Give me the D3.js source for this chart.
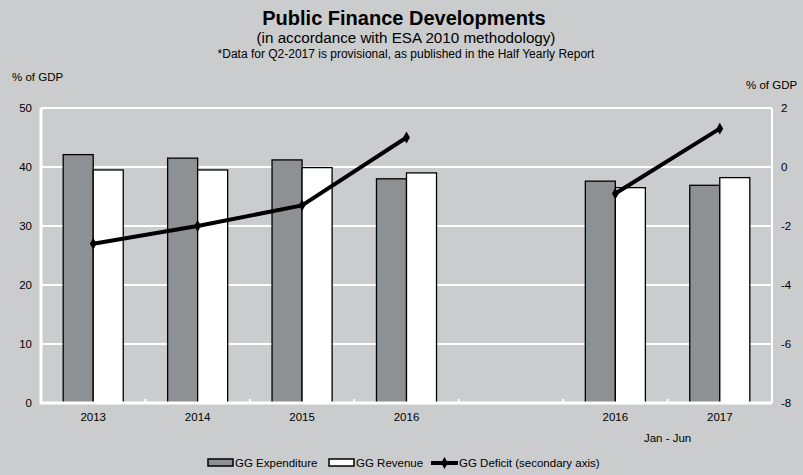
<!DOCTYPE html>
<html>
<head>
<meta charset="utf-8">
<script src="https://cdn.jsdelivr.net/npm/d3@7/dist/d3.min.js"></script>
<style>
  html, body { margin: 0; padding: 0; background: #cbcccd; }
  svg { display: block; font-family: "Liberation Sans", Arial, sans-serif; }
</style>
</head>
<body>
<svg id="chart" width="803" height="475"></svg>
<script>
// Categories (an empty slot separates annual figures from the half-year figures)
const categories = ["2013", "2014", "2015", "2016", "", "2016", "2017"];
const subLabels  = ["", "", "", "", "", "Jan - Jun", ""];

// General government, % of GDP
const expenditure = [42.1, 41.5, 41.2, 38.0, null, 37.6, 36.9];
const revenue     = [39.5, 39.5, 39.9, 39.0, null, 36.5, 38.2];
const deficit     = [-2.6, -2.0, -1.3, 1.0, null, -0.9, 1.3];

const leftTicks  = [0, 10, 20, 30, 40, 50];
const rightTicks = [-8, -6, -4, -2, 0, 2];

const svg = d3.select("#chart");
const W = 803, H = 475;
const plot = { left: 41, right: 772, top: 108, bottom: 403 };

svg.append("rect").attr("width", W).attr("height", H).attr("fill", "#cbcccd");

const x = d3.scaleBand()
  .domain(d3.range(categories.length))
  .range([plot.left, plot.right])
  .paddingInner(0.425)
  .paddingOuter(0.2125);

const xSub = d3.scaleBand().domain(["exp", "rev"]).range([0, x.bandwidth()]);

const yL = d3.scaleLinear().domain([0, 50]).range([plot.bottom, plot.top]);
const yR = d3.scaleLinear().domain([-8, 2]).range([plot.bottom, plot.top]);

// Gridlines
svg.append("g")
  .selectAll("line")
  .data(leftTicks.filter(t => t > 0))
  .join("line")
  .attr("x1", plot.left).attr("x2", plot.right)
  .attr("y1", d => yL(d)).attr("y2", d => yL(d))
  .attr("stroke", "#ffffff").attr("stroke-width", 2);

// Right axis line
svg.append("line")
  .attr("x1", plot.right).attr("x2", plot.right)
  .attr("y1", plot.top).attr("y2", plot.bottom)
  .attr("stroke", "#ffffff").attr("stroke-width", 2);

// Bars
const groups = svg.append("g")
  .selectAll("g")
  .data(categories.map((c, i) => ({ i, exp: expenditure[i], rev: revenue[i] })).filter(d => d.exp != null))
  .join("g")
  .attr("transform", d => `translate(${x(d.i)},0)`);

groups.append("rect")
  .attr("x", xSub("exp")).attr("width", xSub.bandwidth())
  .attr("y", d => yL(d.exp)).attr("height", d => yL(0) - yL(d.exp))
  .attr("fill", "#8e9194").attr("stroke", "#000").attr("stroke-width", 1.3);

groups.append("rect")
  .attr("x", xSub("rev")).attr("width", xSub.bandwidth())
  .attr("y", d => yL(d.rev)).attr("height", d => yL(0) - yL(d.rev))
  .attr("fill", "#ffffff").attr("stroke", "#000").attr("stroke-width", 1.3);

// Left and bottom axis lines
svg.append("path")
  .attr("d", `M${plot.left},${plot.top} V${plot.bottom} H${plot.right}`)
  .attr("fill", "none").attr("stroke", "#ffffff").attr("stroke-width", 3);

// Category separators on the bottom axis
svg.append("g")
  .selectAll("line")
  .data(d3.range(1, categories.length))
  .join("line")
  .attr("x1", i => x(i) - x.step() * x.paddingInner() / 2)
  .attr("x2", i => x(i) - x.step() * x.paddingInner() / 2)
  .attr("y1", plot.bottom).attr("y2", plot.bottom - 4)
  .attr("stroke", "#ffffff").attr("stroke-width", 2);

// Deficit line (secondary axis)
const cx = i => x(i) + x.bandwidth() / 2;
const line = d3.line()
  .defined(d => d.v != null)
  .x(d => cx(d.i))
  .y(d => yR(d.v));
const defData = deficit.map((v, i) => ({ i, v }));
svg.append("path")
  .datum(defData)
  .attr("d", line)
  .attr("fill", "none").attr("stroke", "#000").attr("stroke-width", 4)
  .attr("stroke-linejoin", "round");

const diamond = d3.symbol().type(d3.symbolDiamond).size(40);
svg.append("g")
  .selectAll("path")
  .data(defData.filter(d => d.v != null))
  .join("path")
  .attr("d", diamond)
  .attr("transform", d => `translate(${cx(d.i)},${yR(d.v)})`)
  .attr("fill", "#000");

// Axis tick labels
const txt = (sel) => sel.attr("font-size", 11.5).attr("fill", "#000");

svg.append("g").selectAll("text")
  .data(leftTicks).join("text")
  .attr("x", 32).attr("y", d => yL(d) + 4)
  .attr("text-anchor", "end")
  .text(d => d).call(txt);

svg.append("g").selectAll("text")
  .data(rightTicks).join("text")
  .attr("x", 781).attr("y", d => yR(d) + 4)
  .attr("text-anchor", "start")
  .text(d => d).call(txt);

svg.append("g").selectAll("text")
  .data(categories.map((c, i) => ({ c, i })).filter(d => d.c))
  .join("text")
  .attr("x", d => cx(d.i)).attr("y", 421)
  .attr("text-anchor", "middle")
  .text(d => d.c).call(txt);

// Sub-label between the half-year categories
svg.append("text")
  .attr("x", (cx(5) + cx(6)) / 2).attr("y", 442)
  .attr("text-anchor", "middle")
  .text(subLabels[5]).call(txt);

// Axis unit labels
svg.append("text").attr("x", 12).attr("y", 81).text("% of GDP").call(txt);
svg.append("text").attr("x", 746).attr("y", 89).text("% of GDP").call(txt);

// Titles
svg.append("text")
  .attr("x", 404).attr("y", 25)
  .attr("text-anchor", "middle")
  .attr("font-size", 20).attr("font-weight", "bold")
  .text("Public Finance Developments");
svg.append("text")
  .attr("x", 406).attr("y", 43)
  .attr("text-anchor", "middle")
  .attr("font-size", 15.2)
  .text("(in accordance with ESA 2010 methodology)");
svg.append("text")
  .attr("x", 406).attr("y", 58)
  .attr("text-anchor", "middle")
  .attr("font-size", 12)
  .text("*Data for Q2-2017 is provisional, as published in the Half Yearly Report");

// Legend
const legend = svg.append("g").attr("transform", "translate(0,463)");
const items = [
  { label: "GG Expenditure", type: "rect", fill: "#8e9194", x: 207 },
  { label: "GG Revenue", type: "rect", fill: "#ffffff", x: 328 },
  { label: "GG Deficit (secondary axis)", type: "line", x: 431 }
];
items.forEach(it => {
  if (it.type === "rect") {
    legend.append("rect")
      .attr("x", it.x + 1).attr("y", -4).attr("width", 25).attr("height", 7)
      .attr("fill", it.fill).attr("stroke", "#000").attr("stroke-width", 1.5);
  } else {
    legend.append("line")
      .attr("x1", it.x).attr("x2", it.x + 27).attr("y1", 0).attr("y2", 0)
      .attr("stroke", "#000").attr("stroke-width", 4);
    legend.append("path").attr("d", diamond)
      .attr("transform", `translate(${it.x + 13.5},0)`).attr("fill", "#000");
  }
  legend.append("text")
    .attr("x", it.x + 28).attr("y", 4)
    .text(it.label).call(txt);
});
</script>
</body>
</html>
